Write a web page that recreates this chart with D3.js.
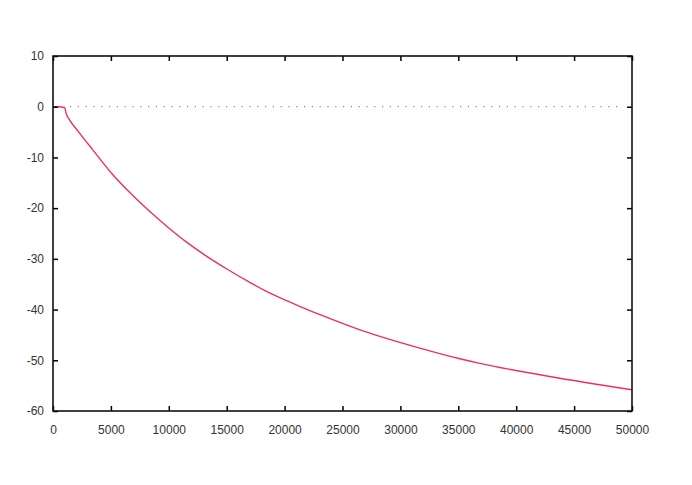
<!DOCTYPE html>
<html>
	<head>
		<meta charset="utf-8">
		<title>curve</title>
		<script src="https://d3js.org/d3.v7.min.js"></script>
		<style>
			body { margin: 0; background: #fff; }
			text { font-family: "Liberation Sans", Arial, sans-serif; font-size: 12px; fill: #333; }
		</style>
	</head>
	<body>
		<div id="chart"></div>
		<script>
			// values
			var xValues = [0, 500, 1000, 1160, 1400, 2260, 3400, 5130, 6850, 8580, 10000,
				11420, 13150, 15160, 16880, 18600, 20330, 21340, 23060, 26510, 31680,
				35130, 36850, 42890, 50000];
			var yValues = [0, 0, -0.2, -1.5, -2.5, -5.1, -8.4, -13.3, -17.4, -21.1, -23.9,
				-26.5, -29.3, -32.2, -34.5, -36.6, -38.4, -39.4, -41.0, -44.0, -47.6,
				-49.7, -50.6, -53.2, -55.8];
			var xTicks = [0, 5000, 10000, 15000, 20000, 25000, 30000, 35000, 40000, 45000, 50000];
			var yTicks = [10, 0, -10, -20, -30, -40, -50, -60];

			// plot box (window.top is taken, so own names)
			var plotLeft = 53, plotRight = 632, plotTop = 56, plotBottom = 411;

			var svg = d3.select("#chart")
				.append("svg")
				.attr("width", 692)
				.attr("height", 485);

			var xScale = d3.scaleLinear().domain([0, 50000]).range([plotLeft, plotRight]);
			var yScale = d3.scaleLinear().domain([-60, 10]).range([plotBottom, plotTop]);

			// zero line, dotted grey
			svg.append("line")
				.attr("x1", xScale(0) + 17)
				.attr("x2", xScale(50000) - 10)
				.attr("y1", yScale(0))
				.attr("y2", yScale(0))
				.style("stroke", "#888")
				.style("stroke-width", 1.2)
				.style("stroke-dasharray", "1.2,6.6");

			var data = xValues.map(function(x, i){ return [x, yValues[i]]; });
			var line = d3.line()
				.x(function(d){ return xScale(d[0]); })
				.y(function(d){ return yScale(d[1]); })
				.curve(d3.curveMonotoneX);

			svg.append("path")
				.attr("d", line(data))
				.style("fill", "none")
				.style("stroke", "#f0305a")
				.style("stroke-width", 1.4);

			// plain hyphen for negatives, like the original
			var fmt = function(d){ return String(d); };

			// axes, ticks pointing inward like gnuplot
			var xAxis = d3.axisBottom(xScale).tickValues(xTicks).tickSize(-5).tickPadding(14).tickFormat(fmt);
			var gx = svg.append("g").attr("transform", "translate(0," + plotBottom + ")").call(xAxis);
			var yAxis = d3.axisLeft(yScale).tickValues(yTicks).tickSize(-5).tickPadding(9).tickFormat(fmt);
			var gy = svg.append("g").attr("transform", "translate(" + plotLeft + ",0)").call(yAxis);
			var gx2 = svg.append("g").attr("transform", "translate(0," + plotTop + ")")
				.call(d3.axisTop(xScale).tickValues(xTicks).tickSize(-5).tickFormat(""));
			var gy2 = svg.append("g").attr("transform", "translate(" + plotRight + ",0)")
				.call(d3.axisRight(yScale).tickValues(yTicks).tickSize(-5).tickFormat(""));

			[gx, gy, gx2, gy2].forEach(function(g){
				g.select(".domain").remove();
				g.selectAll("line").style("stroke", "#000").style("stroke-width", 1.5);
				g.selectAll("text").style("font-family", "'Liberation Sans', Arial, sans-serif")
					.style("font-size", "12px").style("fill", "#333");
			});

			svg.append("rect")
				.attr("x", plotLeft)
				.attr("y", plotTop)
				.attr("width", plotRight - plotLeft)
				.attr("height", plotBottom - plotTop)
				.style("fill", "none")
				.style("stroke", "#111")
				.style("stroke-width", 1.6);
		</script>
	</body>
</html>
